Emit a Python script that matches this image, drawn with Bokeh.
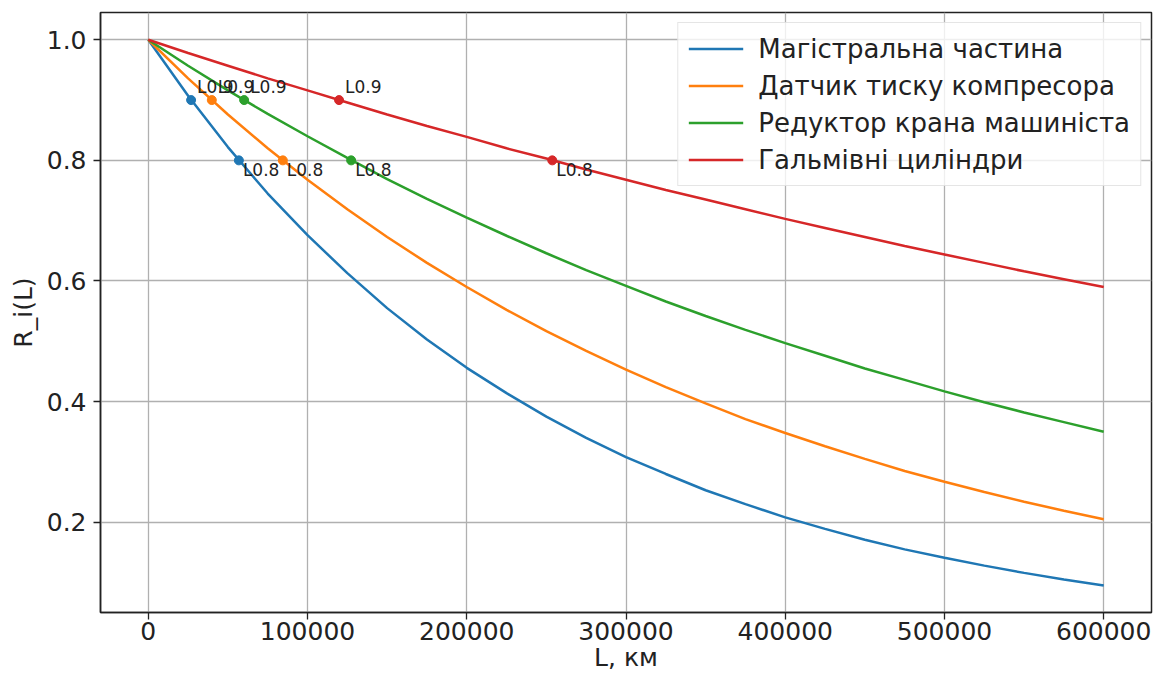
from bokeh.plotting import figure
from bokeh.models import Range1d, FixedTicker, NumeralTickFormatter, ColumnDataSource
from bokeh.core.properties import value
from bokeh.embed import file_html
from bokeh.resources import INLINE

# Data
L_km = [0, 25000, 50000, 75000, 100000, 125000, 150000, 175000, 200000, 225000,
        250000, 275000, 300000, 325000, 350000, 375000, 400000, 425000, 450000,
        475000, 500000, 525000, 550000, 575000, 600000]

R_main = [1.000, 0.907, 0.822, 0.745, 0.676, 0.613, 0.555, 0.503, 0.456, 0.414,
          0.375, 0.340, 0.308, 0.280, 0.253, 0.230, 0.208, 0.189, 0.171, 0.155,
          0.141, 0.128, 0.116, 0.105, 0.095]
R_sensor = [1.000, 0.936, 0.876, 0.820, 0.768, 0.719, 0.673, 0.630, 0.590, 0.552,
            0.517, 0.484, 0.453, 0.424, 0.397, 0.371, 0.348, 0.326, 0.305, 0.285,
            0.267, 0.250, 0.234, 0.219, 0.205]
R_reducer = [1.000, 0.957, 0.916, 0.877, 0.840, 0.804, 0.769, 0.736, 0.705, 0.675,
             0.646, 0.618, 0.592, 0.566, 0.542, 0.519, 0.497, 0.476, 0.455, 0.436,
             0.417, 0.399, 0.382, 0.366, 0.350]
R_cyl = [1.000, 0.978, 0.957, 0.936, 0.916, 0.896, 0.876, 0.857, 0.839, 0.820,
         0.803, 0.785, 0.768, 0.751, 0.735, 0.719, 0.703, 0.688, 0.673, 0.658,
         0.644, 0.630, 0.616, 0.603, 0.590]

names = ["Магістральна частина", "Датчик тиску компресора",
         "Редуктор крана машиніста", "Гальмівні циліндри"]
colors = ["#1f77b4", "#ff7f0e", "#2ca02c", "#d62728"]
series = [R_main, R_sensor, R_reducer, R_cyl]

# Marked points: L at R = 0.9 and R = 0.8
L09 = [26900, 39900, 60200, 119800]
L08 = [56900, 84500, 127400, 253700]
R09 = [0.9, 0.9, 0.9, 0.9]
R08 = [0.8, 0.8, 0.8, 0.8]
lab09 = ["L0.9", "L0.9", "L0.9", "L0.9"]
lab08 = ["L0.8", "L0.8", "L0.8", "L0.8"]

x_ticks = [0, 100000, 200000, 300000, 400000, 500000, 600000]
y_ticks = [0.2, 0.4, 0.6, 0.8, 1.0]

FONT = "DejaVu Sans"

p = figure(width=1163, height=684, output_backend="svg", toolbar_location=None,
           x_range=Range1d(-30000, 630000), y_range=Range1d(0.0503, 1.0452),
           min_border_left=100, min_border_right=12, min_border_top=12,
           min_border_bottom=72)

p.background_fill_color = "white"
p.border_fill_color = "white"
p.outline_line_color = "#222222"
p.outline_line_width = 1.5

for g in (p.xgrid, p.ygrid):
    g.grid_line_color = "#b0b0b0"
    g.grid_line_width = 1.3
p.xgrid.ticker = FixedTicker(ticks=x_ticks)
p.ygrid.ticker = FixedTicker(ticks=y_ticks)

for ax in (p.xaxis, p.yaxis):
    ax.axis_line_color = "#222222"
    ax.axis_line_width = 1.5
    ax.major_tick_line_color = "#222222"
    ax.major_tick_line_width = 1.3
    ax.major_tick_out = 7
    ax.major_tick_in = 0
    ax.minor_tick_line_color = None
    ax.major_label_text_font = FONT
    ax.major_label_text_font_size = "25px"
    ax.major_label_text_color = "#222222"
    ax.axis_label_text_font = FONT
    ax.axis_label_text_font_size = "25px"
    ax.axis_label_text_font_style = "normal"
    ax.axis_label_text_color = "#222222"

p.xaxis.ticker = FixedTicker(ticks=x_ticks)
p.xaxis.formatter = NumeralTickFormatter(format="0")
p.yaxis.ticker = FixedTicker(ticks=y_ticks)
p.yaxis.formatter = NumeralTickFormatter(format="0.0")
p.xaxis.axis_label = "L, км"
p.yaxis.axis_label = "R_i(L)"
p.xaxis.major_label_standoff = 2
p.yaxis.major_label_standoff = 7
p.xaxis.axis_label_standoff = 0
p.yaxis.axis_label_standoff = 6

for name, col, ys in zip(names, colors, series):
    p.line(L_km, ys, line_color=col, line_width=2.5, legend_label=name)

src09 = ColumnDataSource(dict(x=L09, y=R09, c=colors, t=lab09))
src08 = ColumnDataSource(dict(x=L08, y=R08, c=colors, t=lab08))
p.scatter("x", "y", source=src09, color="c", size=9)
p.scatter("x", "y", source=src08, color="c", size=9)
p.text("x", "y", text="t", source=src09, text_font=value(FONT),
       text_font_size="17px", text_color="#222222", anchor="bottom_left",
       x_offset=6, y_offset=-3)
p.text("x", "y", text="t", source=src08, text_font=value(FONT),
       text_font_size="17px", text_color="#222222", anchor="top_left",
       x_offset=4, y_offset=0)

lg = p.legend[0]
lg.location = "top_right"
lg.margin = 10
lg.padding = 10
lg.spacing = 6
lg.label_text_font = FONT
lg.label_text_font_size = "26px"
lg.label_text_color = "#222222"
lg.label_standoff = 15
lg.label_height = 31
lg.glyph_width = 55
lg.glyph_height = 31
lg.border_line_color = "#cccccc"
lg.border_line_width = 1.3
lg.background_fill_alpha = 0.8

open("out.html", "w").write(file_html(p, INLINE))
